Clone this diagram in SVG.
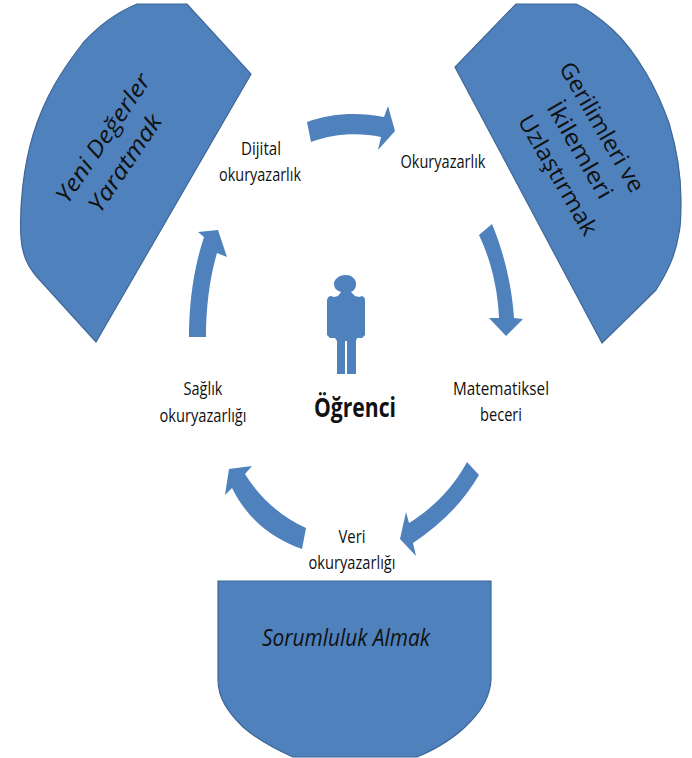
<svg xmlns="http://www.w3.org/2000/svg" width="692" height="758" viewBox="0 0 692 758">
<style>
.s{fill:#4f81bd;stroke:#3f6797;stroke-width:1.2}
.a{fill:#4f81bd}
text{font-family:"Open Sans","Noto Sans","Liberation Sans",sans-serif;fill:#111;text-anchor:middle}
.l{font-size:17.5px}
.c{font-size:23px;font-style:italic}
.u{font-size:23px}
</style>
<rect width="692" height="758" fill="#fff"/>
<g id="node-yeni">
<path class="s" d="M137 4 L187 4 L251 74 L96 342 L37 277 C28 267 22 255 21 238 C19 205 24 165 33 135 C44 98 62 70 83 43 C100 24 118 12 137 4Z"/>
<text class="c" transform="translate(103 138) rotate(-56)" y="8" textLength="150" lengthAdjust="spacingAndGlyphs">Yeni Değerler</text>
<text class="c" transform="translate(125 163) rotate(-56)" y="8" textLength="112" lengthAdjust="spacingAndGlyphs">Yaratmak</text>
</g>
<g id="node-gerilim">
<path class="s" d="M516 4 L576 4 C590 10 602 20 613 30 C627 43 637 58 646 73 C656 90 663 106 669 123 C677 150 681 175 681 200 C681 215 681 225 679 233 C676 252 670 268 656 290 L602 343 L455 67Z"/>
<text class="u" transform="translate(602 127) rotate(60)" y="8" textLength="146" lengthAdjust="spacingAndGlyphs">Gerilimleri ve</text>
<text class="u" transform="translate(580 150) rotate(60)" y="8" textLength="108" lengthAdjust="spacingAndGlyphs">İkilemleri</text>
<text class="u" transform="translate(558 175) rotate(60)" y="8" textLength="135" lengthAdjust="spacingAndGlyphs">Uzlaştırmak</text>
</g>
<g id="node-sorumluluk">
<path class="s" d="M218 581 L491 581 L491 680 C490 695 482 710 470 722 C455 738 436 749 417 757 L293 757 C275 749 258 740 243 727 C228 712 218 698 218 680Z"/>
<text class="c" x="346" y="646" textLength="168" lengthAdjust="spacingAndGlyphs">Sorumluluk Almak</text>
</g>
<g id="connectors">
<path class="a" d="M307 122 C332 113 358 112 384 117 L388 106 L395 131 L378 150 L381 137 C358 132 332 134 311 142Z"/>
<path class="a" d="M479 235 L492 224 C503 250 512 285 514 318 L523 319 L506 336 L489 318 L499 318 C498 290 491 260 479 235Z"/>
<path class="a" d="M467 462 L479 475 C462 504 440 525 413 543 L416 556 L400 539 L406 512 L409 523 C430 510 452 490 467 462Z"/>
<path class="a" d="M306 528 L302 549 C272 538 248 520 232 488 L225 495 L229 469 L252 466 L245 474 C260 498 280 516 306 528Z"/>
<path class="a" d="M189 337 C189 305 193 270 204 237 L198 232 L218 230 L227 257 L217 253 C209 280 206 310 206 337Z"/>
</g>
<g id="node-dijital"><text class="l" x="261" y="155" textLength="40" lengthAdjust="spacingAndGlyphs">Dijital</text><text class="l" x="260" y="181" textLength="82" lengthAdjust="spacingAndGlyphs">okuryazarlık</text></g>
<g id="node-okuryazarlik"><text class="l" x="443" y="168" textLength="85" lengthAdjust="spacingAndGlyphs">Okuryazarlık</text></g>
<g id="node-matematik"><text class="l" x="501" y="395" textLength="96" lengthAdjust="spacingAndGlyphs">Matematiksel</text><text class="l" x="501" y="421" textLength="42" lengthAdjust="spacingAndGlyphs">beceri</text></g>
<g id="node-veri"><text class="l" x="352" y="543" textLength="27" lengthAdjust="spacingAndGlyphs">Veri</text><text class="l" x="352" y="569" textLength="87" lengthAdjust="spacingAndGlyphs">okuryazarlığı</text></g>
<g id="node-saglik"><text class="l" x="203" y="395" textLength="39" lengthAdjust="spacingAndGlyphs">Sağlık</text><text class="l" x="203" y="422" textLength="87" lengthAdjust="spacingAndGlyphs">okuryazarlığı</text></g>
<g id="node-ogrenci">
<path class="a" d="M340 276 Q346 274 351 276 Q356 279 356 284 Q356 290 351 292 L355 296 L359 297 L362 296 Q365 297 365 300 L365 335 L362 338 L357 338 L356 341 L356 374 L347 374 L347 341 L345 341 L345 374 L337 374 L337 341 L335 338 L330 338 L327 335 L327 300 Q328 296 331 296 L334 297 L338 296 L341 292 Q334 290 334 284 Q334 279 340 276Z"/>
<text x="355" y="417" style="font-size:26px;font-weight:700" textLength="82" lengthAdjust="spacingAndGlyphs">Öğrenci</text>
</g>
</svg>
